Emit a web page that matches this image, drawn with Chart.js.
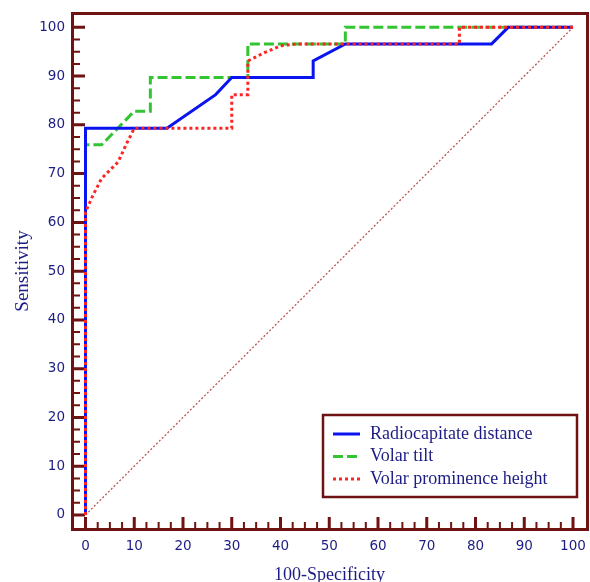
<!DOCTYPE html>
<html lang="en">
<head>
<meta charset="UTF-8">
<title>ROC curves</title>
<script src="https://cdn.jsdelivr.net/npm/chart.js"></script>
<style>
  html, body { margin: 0; padding: 0; background: #fff; }
</style>
</head>
<body>
<canvas id="chart" width="590" height="582"></canvas>
<script>
// x = 100-Specificity, y = Sensitivity
const radioX = [0, 0, 16.7, 26.7, 30, 46.7, 46.7, 53.3, 83.3, 86.7, 100];
const radioY = [0, 79.3, 79.3, 86.2, 89.7, 89.7, 93.1, 96.6, 96.6, 100, 100];

const tiltX = [0, 0, 3.3, 10, 13.3, 13.3, 33.3, 33.3, 53.3, 53.3, 100];
const tiltY = [0, 75.9, 75.9, 82.8, 82.8, 89.7, 89.7, 96.6, 96.6, 100, 100];

const promX = [0, 0, 1.5, 3.3, 6.7, 8.3, 10, 30, 30, 33.3, 33.3, 36.7, 40, 43.3, 76.7, 76.7, 100];
const promY = [0, 62.1, 65.5, 69.0, 72.4, 75.9, 79.3, 79.3, 86.2, 86.2, 93.1, 94.8, 96.2, 96.6, 96.6, 100, 100];

const diagX = [0, 100];
const diagY = [0, 100];

const tickValues = [0, 10, 20, 30, 40, 50, 60, 70, 80, 90, 100];
const seriesNames = ['Radiocapitate distance', 'Volar tilt', 'Volar prominence height'];

const frameColor = '#6e1212';
const textColor = '#1c1c84';

function pts(xs, ys) {
    return xs.map((x, i) => ({ x: x, y: ys[i] }));
}

// ticks point inward, plus the frame round the plot
const frameTicks = {
    id: 'frameTicks',
    beforeDatasetsDraw(chart) {
        const ctx = chart.ctx;
        const a = chart.chartArea;
        const sx = chart.scales.x, sy = chart.scales.y;
        ctx.save();
        ctx.strokeStyle = frameColor;
        ctx.lineWidth = 3;
        ctx.strokeRect(a.left + 0.5, a.top + 0.5, a.right - a.left, a.bottom - a.top);
        for (let v = 0; v <= 100; v += 2.5) {
            const major = v % 10 === 0;
            ctx.lineWidth = major ? 3 : 2;
            const px = sx.getPixelForValue(v);
            const py = sy.getPixelForValue(v);
            ctx.beginPath();
            ctx.moveTo(px, a.bottom);
            ctx.lineTo(px, a.bottom - (major ? 12 : 7));
            ctx.moveTo(a.left, py);
            ctx.lineTo(a.left + (major ? 13 : 8), py);
            ctx.stroke();
        }
        ctx.restore();
    }
};

// boxed legend in the lower right corner
const boxLegend = {
    id: 'boxLegend',
    afterDraw(chart) {
        const ctx = chart.ctx;
        const bx = 323, by = 415, bw = 254, bh = 82;
        ctx.save();
        ctx.fillStyle = '#fff';
        ctx.fillRect(bx, by, bw, bh);
        ctx.strokeStyle = frameColor;
        ctx.lineWidth = 2.5;
        ctx.strokeRect(bx, by, bw, bh);
        ctx.font = '18px "Liberation Serif", "Times New Roman", serif';
        ctx.textBaseline = 'middle';
        ctx.fillStyle = textColor;
        chart.data.datasets.filter(d => d.label).forEach((d, i) => {
            const y = 434 + i * 22.5;
            ctx.strokeStyle = d.borderColor;
            ctx.lineWidth = 3;
            ctx.setLineDash(d.borderDash || []);
            ctx.beginPath();
            ctx.moveTo(333, y);
            ctx.lineTo(360, y);
            ctx.stroke();
            ctx.setLineDash([]);
            ctx.fillText(d.label, 370, y);
        });
        ctx.restore();
    }
};

new Chart(document.getElementById('chart'), {
    type: 'scatter',
    data: {
        datasets: [
            {
                label: seriesNames[0],
                data: pts(radioX, radioY),
                showLine: true,
                borderColor: '#0a14f0',
                borderWidth: 3,
                pointRadius: 0,
                order: 1
            },
            {
                label: seriesNames[1],
                data: pts(tiltX, tiltY),
                showLine: true,
                borderColor: '#33c433',
                borderWidth: 3,
                borderDash: [10, 4],
                pointRadius: 0,
                order: 2
            },
            {
                label: seriesNames[2],
                data: pts(promX, promY),
                showLine: true,
                borderColor: '#ff2424',
                borderWidth: 3,
                borderDash: [3, 3],
                pointRadius: 0,
                order: 0
            },
            {
                label: '',
                data: pts(diagX, diagY),
                showLine: true,
                borderColor: '#b85858',
                borderWidth: 1.3,
                borderDash: [2, 2],
                pointRadius: 0,
                order: 3
            }
        ]
    },
    options: {
        responsive: false,
        animation: false,
        layout: { padding: { top: 13, right: 3, left: 0, bottom: 0 } },
        plugins: {
            legend: { display: false },
            tooltip: { enabled: false }
        },
        scales: {
            x: {
                type: 'linear',
                min: -2.77,
                max: 102.87,
                afterBuildTicks: s => { s.ticks = tickValues.map(v => ({ value: v })); },
                afterFit: s => { s.height = 53; s.paddingLeft = 0; s.paddingRight = 0; },
                grid: { display: false, drawTicks: false },
                border: { display: false },
                ticks: {
                    color: textColor,
                    padding: 9,
                    maxRotation: 0,
                    font: { family: '"DejaVu Sans", sans-serif', size: 13.5 }
                },
                title: {
                    display: true,
                    text: '100-Specificity',
                    color: textColor,
                    padding: { top: 0, bottom: -4 },
                    font: { family: '"Liberation Serif", "Times New Roman", serif', size: 18 }
                }
            },
            y: {
                type: 'linear',
                min: -2.88,
                max: 102.94,
                afterBuildTicks: s => { s.ticks = tickValues.map(v => ({ value: v })); },
                afterFit: s => { s.width = 72; s.paddingTop = 0; s.paddingBottom = 0; },
                grid: { display: false, drawTicks: false },
                border: { display: false },
                ticks: {
                    color: textColor,
                    padding: 7,
                    font: { family: '"DejaVu Sans", sans-serif', size: 13.5 }
                },
                title: {
                    display: true,
                    text: 'Sensitivity',
                    color: textColor,
                    padding: { top: 12, bottom: 0 },
                    font: { family: '"Liberation Serif", "Times New Roman", serif', size: 19 }
                }
            }
        }
    },
    plugins: [frameTicks, boxLegend]
});
</script>
</body>
</html>
